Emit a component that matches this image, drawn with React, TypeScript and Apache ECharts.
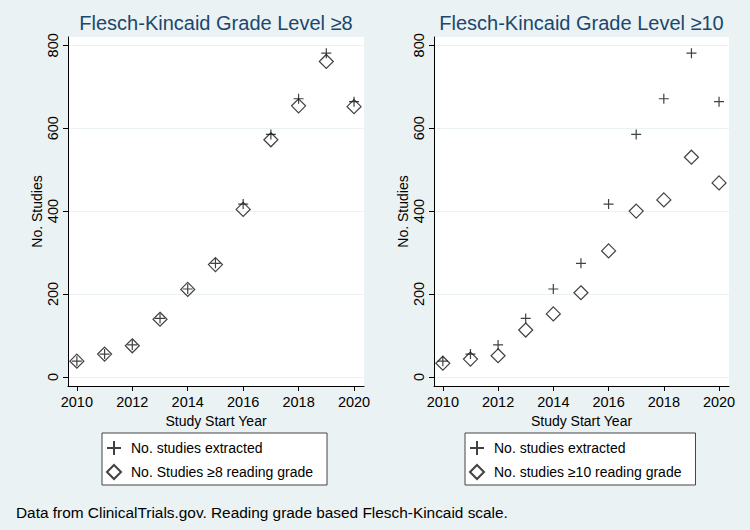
import React, { useEffect, useRef } from "react";
import * as echarts from "echarts";

const years = [2010, 2011, 2012, 2013, 2014, 2015, 2016, 2017, 2018, 2019, 2020];
const extracted = [38, 55, 77, 141, 212, 274, 417, 585, 671, 781, 664];
const grade8 = [38, 55, 75, 139, 211, 271, 404, 572, 654, 761, 652];
const grade10 = [33, 43, 51, 113, 152, 203, 304, 400, 427, 530, 468];
const yTicks = [0, 200, 400, 600, 800];
const xTicks = [2010, 2012, 2014, 2016, 2018, 2020];
const titles = ["Flesch-Kincaid Grade Level ≥8", "Flesch-Kincaid Grade Level ≥10"];
const legendNames = [
  ["No. studies extracted", "No. Studies ≥8 reading grade"],
  ["No. studies extracted", "No. studies ≥10 reading grade"],
];
const footnote = "Data from ClinicalTrials.gov. Reading grade based Flesch-Kincaid scale.";

const BG = "#eaf2f3";
const FONT = "'Liberation Sans', Arial, sans-serif";
const PLUS = "path://M5,0L5,10M0,5L10,5";

export default function App() {
  const ref = useRef<HTMLDivElement>(null);
  useEffect(() => {
    if (!ref.current) return;
    const chart = echarts.init(ref.current, null, { renderer: "svg" });
    const grids = [
      { left: 68, right: 386, top: 37, bottom: 144 },
      { left: 434, right: 21, top: 37, bottom: 144 },
    ];
    const xAxis = grids.map((_, i) => ({
      type: "value",
      gridIndex: i,
      min: 2009.68,
      max: 2020.36,
      name: "Study Start Year",
      nameLocation: "middle",
      nameGap: 24,
      nameTextStyle: { fontFamily: FONT, fontSize: 14, color: "#000" },
      axisLine: { show: true, onZero: false, lineStyle: { color: "#000", width: 1 } },
      axisTick: { show: true, length: 5, customValues: xTicks, lineStyle: { color: "#000" } },
      axisLabel: {
        customValues: xTicks,
        margin: 8,
        fontFamily: FONT,
        fontSize: 14.5,
        color: "#000",
        formatter: (v: number) => String(v),
      },
      splitLine: { show: false },
    }));
    const yAxis = grids.map((_, i) => ({
      type: "value",
      gridIndex: i,
      min: -22,
      max: 820,
      name: "No. Studies",
      nameLocation: "middle",
      nameGap: 24,
      nameTextStyle: { fontFamily: FONT, fontSize: 14, color: "#000" },
      axisLine: { show: true, onZero: false, lineStyle: { color: "#000", width: 1 } },
      axisTick: { show: true, length: 5, customValues: yTicks, lineStyle: { color: "#000" } },
      axisLabel: {
        customValues: yTicks,
        rotate: 90,
        margin: 8,
        fontFamily: FONT,
        fontSize: 14.5,
        color: "#000",
      },
      splitLine: { show: true, lineStyle: { color: BG, width: 1 } },
    }));
    const markerStyle = { color: "transparent", borderColor: "#111", borderWidth: 1.2 };
    const series = [
      { name: legendNames[0][0], data: extracted, idx: 0, sym: PLUS, size: 10 },
      { name: legendNames[0][1], data: grade8, idx: 0, sym: "diamond", size: 14 },
      { name: legendNames[1][0], data: extracted, idx: 1, sym: PLUS, size: 10 },
      { name: legendNames[1][1], data: grade10, idx: 1, sym: "diamond", size: 14 },
    ].map((s) => ({
      type: "scatter",
      name: s.name,
      xAxisIndex: s.idx,
      yAxisIndex: s.idx,
      symbol: s.sym,
      symbolSize: s.size,
      itemStyle: markerStyle,
      data: years.map((y, j) => [y, s.data[j]]),
    }));
    const legends = [102, 465].map((left, i) => ({
      left,
      top: 433,
      orient: "vertical",
      selectedMode: false,
      backgroundColor: "#fff",
      borderColor: "#444",
      borderWidth: 1,
      borderRadius: 0,
      padding: [7, 14, 5, 4],
      itemGap: 8,
      itemWidth: 14,
      itemHeight: 14,
      data: legendNames[i],
      textStyle: { fontFamily: FONT, fontSize: 14, color: "#000", padding: [0, 0, 0, 5] },
    }));
    chart.setOption({
      animation: false,
      backgroundColor: BG,
      grid: grids.map((g) => ({ ...g, show: true, backgroundColor: "#fff", borderWidth: 0 })),
      xAxis,
      yAxis,
      legend: legends,
      series,
      graphic: [
        ...titles.map((t, i) => ({
          type: "text",
          x: i === 0 ? 216 : 581.5,
          y: 23,
          style: {
            text: t,
            fill: "#1a476f",
            font: `20px ${FONT}`,
            textAlign: "center",
            textVerticalAlign: "middle",
          },
        })),
        {
          type: "text",
          x: 16,
          y: 512,
          style: {
            text: footnote,
            fill: "#000",
            font: `15.4px ${FONT}`,
            textAlign: "left",
            textVerticalAlign: "middle",
          },
        },
      ],
    });
    return () => chart.dispose();
  }, []);
  return (
    <div
      ref={ref}
      style={{ position: "fixed", left: 0, top: 0, width: 750, height: 530 }}
    />
  );
}
